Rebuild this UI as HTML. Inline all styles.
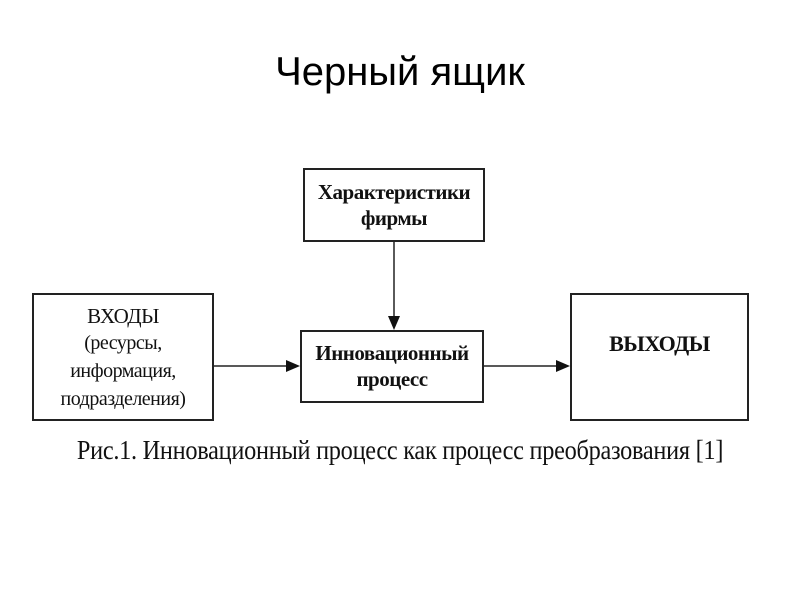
<!DOCTYPE html>
<html><head><meta charset="utf-8"><style>
body{margin:0;width:800px;height:600px;background:#fff;overflow:hidden;position:relative;font-family:"Liberation Sans",sans-serif}
.t{position:absolute;left:0;width:800px;top:50px;text-align:center;font-size:40px;color:#000}
.b{position:absolute;border:2px solid #222;box-sizing:border-box;font-family:"Liberation Serif",serif;font-size:21px;text-align:center;color:#111;line-height:26px;font-weight:bold;letter-spacing:-0.5px}
.b span{font-weight:normal}
.cap{position:absolute;left:0;width:800px;top:435px;text-align:center;font-family:"Liberation Serif",serif;font-size:27px;color:#111;transform:scaleX(0.9);letter-spacing:-0.3px}
</style></head><body>
<div class="t">Черный ящик</div>
<div class="b" style="left:303px;top:168px;width:182px;height:74px;padding-top:9px">Характеристики<br>фирмы</div>
<div class="b" style="left:32px;top:293px;width:182px;height:128px;padding-top:8px;font-weight:normal">ВХОДЫ<br><span style="font-size:20px;line-height:28px">(ресурсы,<br>информация,<br>подразделения)</span></div>
<div class="b" style="left:300px;top:330px;width:184px;height:73px;padding-top:8px">Инновационный<br>процесс</div>
<div class="b" style="left:570px;top:293px;width:179px;height:128px;padding-top:36px;font-size:22px">ВЫХОДЫ</div>
<svg width="800" height="600" style="position:absolute;left:0;top:0">
<line x1="394" y1="242" x2="394" y2="318" stroke="#222" stroke-width="1.5"/>
<polygon points="388,316 400,316 394,330" fill="#111"/>
<line x1="214" y1="366" x2="288" y2="366" stroke="#222" stroke-width="1.5"/>
<polygon points="286,360 286,372 300,366" fill="#111"/>
<line x1="484" y1="366" x2="558" y2="366" stroke="#222" stroke-width="1.5"/>
<polygon points="556,360 556,372 570,366" fill="#111"/>
</svg>
<div class="cap">Рис.1. Инновационный процесс как процесс преобразования [1]</div>
</body></html>
